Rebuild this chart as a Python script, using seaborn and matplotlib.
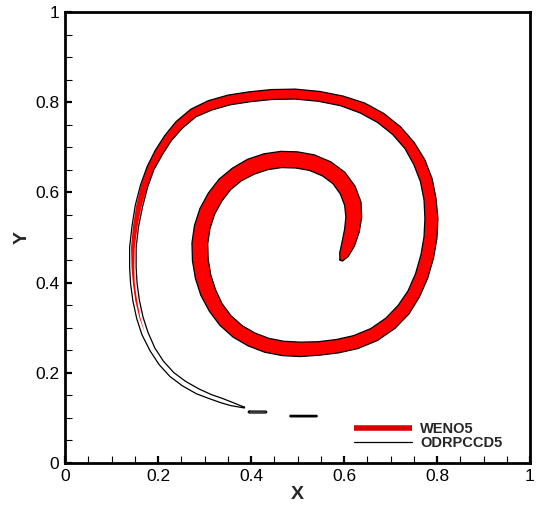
import matplotlib
matplotlib.use('Agg')

import numpy as np
import pandas as pd
import matplotlib.pyplot as plt
from matplotlib.lines import Line2D
import seaborn as sns

# centre line of the spiral band, from the inner tip outwards
spiral_x = [0.594, 0.600, 0.609, 0.617, 0.621, 0.619, 0.608, 0.589, 0.563, 0.531,
            0.498, 0.465, 0.432, 0.400, 0.370, 0.344, 0.323, 0.306, 0.295, 0.290,
            0.291, 0.297, 0.308, 0.324, 0.345, 0.371, 0.401, 0.434, 0.469, 0.506,
            0.546, 0.586, 0.625, 0.665, 0.700, 0.728, 0.750, 0.767, 0.779, 0.786,
            0.788, 0.785, 0.777, 0.762, 0.741, 0.713, 0.679, 0.640, 0.595, 0.546,
            0.495, 0.444, 0.397, 0.353, 0.312, 0.276, 0.246, 0.222, 0.202, 0.184,
            0.170, 0.159, 0.151, 0.146, 0.146, 0.148, 0.153, 0.161, 0.172, 0.188,
            0.207, 0.230, 0.256, 0.285, 0.313, 0.338, 0.358, 0.375, 0.386]
spiral_y = [0.449, 0.462, 0.485, 0.515, 0.545, 0.575, 0.605, 0.632, 0.652, 0.666,
            0.672, 0.673, 0.668, 0.657, 0.640, 0.618, 0.590, 0.558, 0.523, 0.487,
            0.450, 0.413, 0.378, 0.345, 0.316, 0.292, 0.274, 0.261, 0.254, 0.252,
            0.254, 0.259, 0.268, 0.285, 0.310, 0.340, 0.375, 0.415, 0.458, 0.500,
            0.542, 0.585, 0.627, 0.667, 0.704, 0.737, 0.765, 0.787, 0.803, 0.813,
            0.818, 0.817, 0.812, 0.805, 0.793, 0.776, 0.750, 0.721, 0.689, 0.654,
            0.614, 0.570, 0.524, 0.478, 0.433, 0.398, 0.360, 0.322, 0.287, 0.252,
            0.222, 0.196, 0.176, 0.159, 0.147, 0.138, 0.131, 0.126, 0.123]

# half thickness of the band for each solution
weno_hw = [0.003, 0.010, 0.014, 0.016, 0.017, 0.018, 0.018, 0.018, 0.018, 0.018,
           0.018, 0.018, 0.018, 0.018, 0.017, 0.017, 0.017, 0.017, 0.017, 0.017,
           0.017, 0.017, 0.017, 0.016, 0.016, 0.016, 0.016, 0.016, 0.016, 0.016,
           0.015, 0.015, 0.015, 0.015, 0.015, 0.015, 0.014, 0.014, 0.014, 0.014,
           0.014, 0.013, 0.013, 0.013, 0.012, 0.012, 0.012, 0.012, 0.011, 0.011,
           0.011, 0.011, 0.011, 0.011, 0.011, 0.010, 0.010, 0.009, 0.009, 0.008,
           0.007, 0.006, 0.005, 0.004, 0.003, 0.002, 0.002, 0.001, 0.0]
odr_hw = [0.003, 0.010, 0.014, 0.016, 0.017, 0.018, 0.018, 0.018, 0.018, 0.018,
          0.018, 0.018, 0.018, 0.018, 0.017, 0.017, 0.017, 0.017, 0.017, 0.017,
          0.017, 0.017, 0.017, 0.016, 0.016, 0.016, 0.016, 0.016, 0.016, 0.016,
          0.015, 0.015, 0.015, 0.015, 0.015, 0.015, 0.014, 0.014, 0.014, 0.014,
          0.014, 0.013, 0.013, 0.013, 0.012, 0.012, 0.012, 0.012, 0.011, 0.011,
          0.011, 0.011, 0.011, 0.011, 0.011, 0.010, 0.010, 0.009, 0.009, 0.008,
          0.008, 0.008, 0.007, 0.007, 0.007, 0.007, 0.007, 0.007, 0.007, 0.006,
          0.006, 0.006, 0.006, 0.006, 0.005, 0.005, 0.004, 0.002, 0.001]

# small broken pieces of the ODRPCCD5 contour
dash_x = [[0.396, 0.432], [0.485, 0.541]]
dash_y = [[0.113, 0.113], [0.104, 0.104]]
dash_hw = [0.002, 0.0015]


def band(x, y, hw):
    """ closed outline of a band of half width hw around the line x, y """
    x = np.asarray(x, float)
    y = np.asarray(y, float)
    hw = np.asarray(hw, float)
    tx = np.gradient(x)
    ty = np.gradient(y)
    n = np.hypot(tx, ty)
    nx, ny = -ty / n, tx / n
    lx, ly = x + nx * hw, y + ny * hw
    rx, ry = x - nx * hw, y - ny * hw
    px = np.concatenate([lx, rx[::-1], lx[:1]])
    py = np.concatenate([ly, ry[::-1], ly[:1]])
    return px, py


def capsule(x, y, hw):
    # thin closed loop around a short straight piece
    x0, x1 = x
    y0 = y[0]
    px = [x0, x1, x1 + hw, x1, x0, x0 - hw, x0]
    py = [y0 + hw, y0 + hw, y0, y0 - hw, y0 - hw, y0, y0 + hw]
    return px, py


if __name__ == "__main__":
    sns.set_style('ticks')
    plt.rcParams['font.family'] = ['Liberation Sans', 'DejaVu Sans']

    fig = plt.figure(figsize=(5.37, 5.08), dpi=100)
    ax = fig.add_axes([65 / 537, 45 / 508, 465 / 537, 451 / 508])

    n_red = len(weno_hw)
    rx, ry = band(spiral_x[:n_red], spiral_y[:n_red], weno_hw)
    ax.fill(rx, ry, color='#ff0000', lw=0, zorder=2)

    bx, by = band(spiral_x, spiral_y, odr_hw)
    df = pd.DataFrame({'x': bx, 'y': by})
    sns.lineplot(data=df, x='x', y='y', sort=False, estimator=None,
                 color='black', lw=0.9, ax=ax, zorder=3)
    for dx, dy, h in zip(dash_x, dash_y, dash_hw):
        cx, cy = capsule(dx, dy, h)
        sns.lineplot(x=cx, y=cy, sort=False, estimator=None,
                     color='black', lw=1.0, ax=ax, zorder=3)

    ax.set_xlim(0, 1)
    ax.set_ylim(0, 1)
    ax.set_xticks(np.arange(0, 1.01, 0.2))
    ax.set_yticks(np.arange(0, 1.01, 0.2))
    ax.set_xticklabels(['0', '0.2', '0.4', '0.6', '0.8', '1'])
    ax.set_yticklabels(['0', '0.2', '0.4', '0.6', '0.8', '1'])
    ax.set_xticks(np.arange(0, 1.001, 0.05), minor=True)
    ax.set_yticks(np.arange(0, 1.001, 0.05), minor=True)
    ax.tick_params(which='major', direction='in', length=5, width=1.6,
                   labelsize=12.5, pad=4, color='black', labelcolor='black')
    ax.tick_params(which='minor', direction='in', length=5, width=0.8, color='black')
    for s in ax.spines.values():
        s.set_linewidth(2)
        s.set_color('black')

    ax.set_xlabel('X', fontsize=14, fontweight='bold', labelpad=2)
    ax.set_ylabel('Y', fontsize=14, fontweight='bold', labelpad=3)

    handles = [Line2D([], [], color='#dd0000', lw=4, solid_capstyle='butt'),
               Line2D([], [], color='black', lw=0.9)]
    ax.legend(handles, ['WENO5', 'ODRPCCD5'], loc='lower left',
              bbox_to_anchor=(0.593, 0.0), frameon=False, handlelength=4.0,
              labelspacing=0.0, handletextpad=0.55,
              prop={'weight': 'bold', 'size': 10.5})

    fig.savefig('out.png', dpi=100)
